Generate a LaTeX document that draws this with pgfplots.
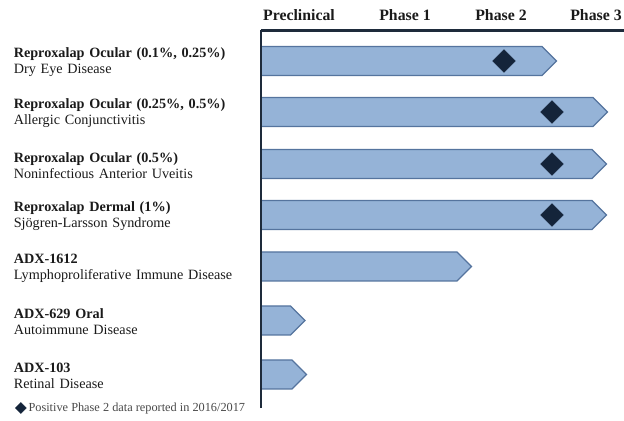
\documentclass[border=0pt]{standalone}
\usepackage{fontspec}
\setmainfont{Liberation Serif}
\usepackage{pgfplots}
\pgfplotsset{compat=1.18}
\definecolor{barfill}{HTML}{95B3D7}
\definecolor{baredge}{HTML}{55749E}
\definecolor{diam}{HTML}{14243A}
\definecolor{axcol}{HTML}{1E2B3B}
\definecolor{txt}{HTML}{1A1A1A}
\begin{document}
\begin{tikzpicture}
\useasboundingbox (-261bp,-13bp) rectangle (363bp,408bp);
\begin{axis}[
  at={(0,0)}, anchor=south west, scale only axis,
  width=363bp, height=378bp,
  xmin=0, xmax=363, ymin=0, ymax=378,
  clip=false, axis on top,
  axis x line=top, axis y line=left,
  axis line style={-, draw=axcol, line width=2bp},
  major tick length=0pt,
  xtick={38,144,240,335},
  xticklabels={Preclinical, Phase 1, Phase 2, Phase 3},
  xticklabel style={font=\bfseries\fontsize{15.8bp}{17bp}\selectfont, text=txt, anchor=base, yshift=9.5bp},
  ytick={347,296,244,193,141.5,87.5,33.5},
  yticklabels={
    {\textbf{Reproxalap Ocular (0.1\%, 0.25\%)}\\Dry Eye Disease},
    {\textbf{Reproxalap Ocular (0.25\%, 0.5\%)}\\Allergic Conjunctivitis},
    {\textbf{Reproxalap Ocular (0.5\%)}\\Noninfectious Anterior Uveitis},
    {\textbf{Reproxalap Dermal (1\%)}\\Sjögren-Larsson Syndrome},
    {\textbf{ADX-1612}\\Lymphoproliferative Immune Disease},
    {\textbf{ADX-629 Oral}\\Autoimmune Disease},
    {\textbf{ADX-103}\\Retinal Disease}},
  yticklabel style={font=\fontsize{14.2bp}{16bp}\selectfont, text=txt, anchor=east, align=left, text width=247bp, inner sep=0pt, yshift=-1.5bp},
  legend style={at={(-0.686,0)}, anchor=west, draw=none, fill=none,
    font=\fontsize{12.3bp}{13bp}\selectfont, text=txt!80, legend cell align=left},
  legend image code/.code={\fill[diam] (0.25em,0) ++(0,5.5bp) -- ++(5.5bp,-5.5bp) -- ++(-5.5bp,-5.5bp) -- ++(-5.5bp,5.5bp) -- cycle;},
]
\pgfplotsset{bar/.style={fill=barfill, draw=baredge, line width=1.1bp, forget plot}}
\addplot[bar] coordinates {(0,332.5) (281,332.5) (295.5,347) (281,361.5) (0,361.5)} -- cycle;
\addplot[bar] coordinates {(0,281.5) (332,281.5) (346.5,296) (332,310.5) (0,310.5)} -- cycle;
\addplot[bar] coordinates {(0,229.5) (331,229.5) (345.5,244) (331,258.5) (0,258.5)} -- cycle;
\addplot[bar] coordinates {(0,178.5) (331,178.5) (345.5,193) (331,207.5) (0,207.5)} -- cycle;
\addplot[bar] coordinates {(0,127) (196,127) (210.5,141.5) (196,156) (0,156)} -- cycle;
\addplot[bar] coordinates {(0,73) (29.5,73) (44,87.5) (29.5,102) (0,102)} -- cycle;
\addplot[bar] coordinates {(0,19) (31,19) (45.5,33.5) (31,48) (0,48)} -- cycle;
\addplot[only marks, mark=square*, mark size=8bp, mark options={rotate=45, fill=diam, draw=diam}]
  coordinates {(243,347) (291,296) (291,244) (291,193)};
\addlegendentry{Positive Phase 2 data reported in 2016/2017}
\end{axis}
\draw[axcol, line width=2.2bp] (-1bp,377bp) -- (363bp,377bp);
\end{tikzpicture}
\end{document}
